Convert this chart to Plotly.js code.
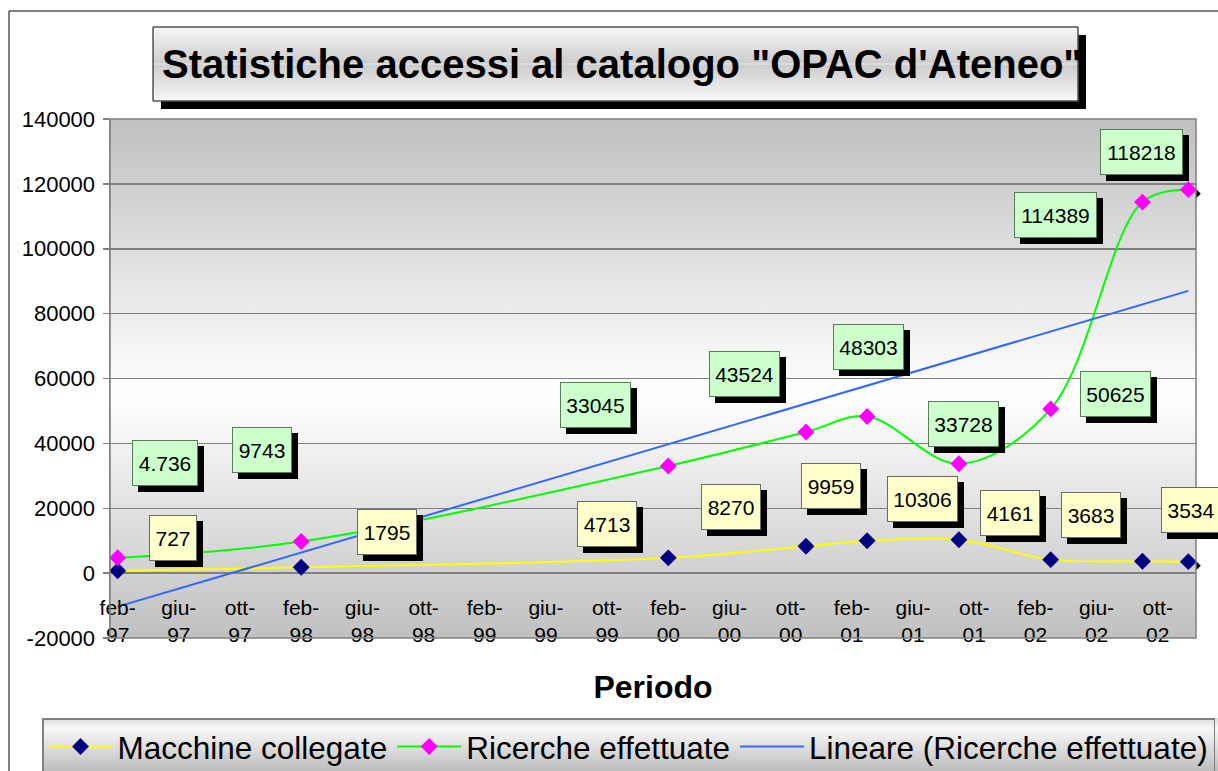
<!DOCTYPE html>
<html><head><meta charset="utf-8">
<script src="https://cdn.plot.ly/plotly-3.0.1.min.js"></script>
<style>html,body{margin:0;padding:0;background:#fff;}#chart{width:1218px;height:771px;}</style>
</head><body><div id="chart"></div>
<script>
// ---------- DATA ----------
const periodi = ["1997-02","1998-02","2000-02","2000-11","2001-03","2001-09","2002-03","2002-09","2002-12"];
const macchineCollegate = [727,1795,4713,8270,9959,10306,4161,3683,3534];
const ricercheEffettuate = [4736,9743,33045,43524,48303,33728,50625,114389,118218];
const xTickLabels = ["feb-97","giu-97","ott-97","feb-98","giu-98","ott-98","feb-99","giu-99","ott-99",
                     "feb-00","giu-00","ott-00","feb-01","giu-01","ott-01","feb-02","giu-02","ott-02"];
const yTicks = [-20000,0,20000,40000,60000,80000,100000,120000,140000];

// ---------- LABEL OFFSETS (screen px from the point: right, down) ----------
const offRicerche = [[47,-95],[-39,-92],[-73,-61],[-61,-58],[1,-69],[5,-40],[65,-15],[-87,13],[-47,-38]];
const offMacchine = [[55,-33],[86,-35],[-61,-34],[-75,-39],[-36,-55],[-36,-41],[-41,-47],[-51,-46],[3,-52]];

// ---------- helpers ----------
const mesi = {gen:1,feb:2,mar:3,apr:4,mag:5,giu:6,lug:7,ago:8,set:9,ott:10,nov:11,dic:12};
const START_Y = 1997, START_M = 2;
const idxFromISO = s => { const [y,m] = s.split('-').map(Number); return (y-START_Y)*12 + (m-START_M); };
const idxFromLabel = s => { const [mn,yy] = s.split('-'); const y = Number(yy) < 50 ? 2000+Number(yy) : 1900+Number(yy); return (y-START_Y)*12 + (mesi[mn]-START_M); };

const xs = periodi.map(idxFromISO);
const tickIdx = xTickLabels.map(idxFromLabel);
const nMonths = idxFromISO("2002-12") + 1;

// linear trend (least squares)
const n = xs.length;
const mx = xs.reduce((a,b)=>a+b,0)/n, my = ricercheEffettuate.reduce((a,b)=>a+b,0)/n;
let sxy=0, sxx=0;
for (let i=0;i<n;i++){ sxy += (xs[i]-mx)*(ricercheEffettuate[i]-my); sxx += (xs[i]-mx)**2; }
const slope = sxy/sxx, icpt = my - slope*mx;
const trendX = [Math.min(...xs), Math.max(...xs)];
const trendY = trendX.map(x => icpt + slope*x);

// ---------- geometry ----------
const W=1218,H=771,ML=110,MR=18,MT=119,MB=129;
const PW=W-ML-MR, PH=H-MT-MB, SH=4;
const px = x => (x-ML)/PW;
const py = y => 1-(y-MT)/PH;
const FONT = 'Liberation Sans, Arial, sans-serif';
const xr = [-0.5, nMonths-0.5];
const yr = [-20000, 140000];
const yDom = [SH/PH, 1];
const zeroPos = yDom[0] + (yDom[1]-yDom[0])*(0-yr[0])/(yr[1]-yr[0]);

function grad(stops){
  const svg = '<svg xmlns="http://www.w3.org/2000/svg" width="10" height="100" preserveAspectRatio="none"><defs><linearGradient id="g" x1="0" y1="0" x2="0" y2="1">' +
    stops.map(s=>'<stop offset="'+s[0]+'" stop-color="'+s[1]+'"/>').join('') +
    '</linearGradient></defs><rect width="10" height="100" fill="url(#g)"/></svg>';
  return 'data:image/svg+xml;charset=utf-8,' + encodeURIComponent(svg);
}

// ---------- traces ----------
const common = {hoverinfo:'skip', cliponaxis:false};
const traces = [
  Object.assign({x:xs, y:macchineCollegate, xaxis:'x', yaxis:'y', mode:'markers', showlegend:false,
    marker:{symbol:'diamond', size:13, color:'#000'}}, common),
  Object.assign({x:xs, y:ricercheEffettuate, xaxis:'x', yaxis:'y', mode:'markers', showlegend:false,
    marker:{symbol:'diamond', size:13, color:'#000'}}, common),
  Object.assign({x:xs, y:macchineCollegate, xaxis:'x2', yaxis:'y2', mode:'lines+markers', name:'Macchine collegate',
    line:{color:'#ffff00', width:2, shape:'spline', smoothing:1}, marker:{symbol:'diamond', size:13, color:'#000080'}}, common),
  Object.assign({x:xs, y:ricercheEffettuate, xaxis:'x2', yaxis:'y2', mode:'lines+markers', name:'Ricerche effettuate',
    line:{color:'#00ff00', width:2, shape:'spline', smoothing:1}, marker:{symbol:'diamond', size:13, color:'#ff00ff'}}, common),
  Object.assign({x:trendX, y:trendY, xaxis:'x2', yaxis:'y2', mode:'lines', name:'Lineare (Ricerche effettuate)',
    line:{color:'#3366ff', width:2}}, common)
];

// ---------- data labels ----------
const annotations = [];
const fmt = (v,i) => i===0 ? String(v).replace(/\B(?=(\d{3})+(?!\d))/g,'.') : String(v);
function textW(t){ let w=0; for (const c of t) w += (c==='.'?0.278:0.556); return w*21; }
function addLabel(xv, yv, txt, off, fill, border){
  const w = Math.round(textW(txt)+9), h = 42;
  const base = {x:xv, y:yv, xref:'x2', yref:'y2', showarrow:false, width:w, height:h,
                borderpad:1, borderwidth:1, font:{family:FONT, size:21, color:'#000'}};
  annotations.push(Object.assign({}, base, {text:' ', xshift:off[0]+6, yshift:-off[1]-6, bgcolor:'#000', bordercolor:'#000'}));
  annotations.push(Object.assign({}, base, {text:txt, xshift:off[0], yshift:-off[1], bgcolor:fill, bordercolor:border}));
}
ricercheEffettuate.forEach((v,i)=>addLabel(xs[i], v, fmt(v,i), offRicerche[i], '#ccffcc', '#5a7a5a'));
macchineCollegate.forEach((v,i)=>addLabel(xs[i], v, String(v), offMacchine[i], '#ffffcc', '#6a6a6a'));

// ---------- decorations ----------
const shapes = [
  {type:'rect', xref:'paper', yref:'paper', x0:px(9), x1:px(1260), y0:py(11), y1:py(820), line:{color:'#000', width:1}, layer:'below'},
  {type:'rect', xref:'x2 domain', yref:'y2 domain', x0:0, x1:1, y0:0, y1:1, line:{color:'#808080', width:1.5}},
  // title box border + shadow
  {type:'rect', xref:'paper', yref:'paper', x0:px(153), x1:px(1078), y0:py(101), y1:py(27), line:{color:'#000', width:1}},
  {type:'rect', xref:'paper', yref:'paper', x0:px(1078.5), x1:px(1086), y0:py(109), y1:py(35), fillcolor:'#000', line:{width:0}},
  {type:'rect', xref:'paper', yref:'paper', x0:px(161), x1:px(1086), y0:py(109), y1:py(101.5), fillcolor:'#000', line:{width:0}}
];
const images = [
  {source:grad([[0,'#c0c0c0'],[0.53,'#ffffff'],[1,'#c0c0c0']]), xref:'x2 domain', yref:'y2 domain',
   x:0, y:1, sizex:1, sizey:1, xanchor:'left', yanchor:'top', sizing:'stretch', layer:'below'},
  {source:grad([[0,'#f8f8f8'],[0.49,'#cccccc'],[0.5,'#ffffff'],[0.51,'#cccccc'],[1,'#f8f8f8']]), xref:'paper', yref:'paper',
   x:px(153), y:py(27), sizex:(1078-153)/PW, sizey:(101-27)/PH, xanchor:'left', yanchor:'top', sizing:'stretch', layer:'below'},
  {source:grad([[0,'#dcdcdc'],[0.2,'#f8f8f8'],[1,'#bdbdbd']]), xref:'paper', yref:'paper',
   x:px(42), y:py(718), sizex:(1240-42)/PW, sizey:(771-718)/PH, xanchor:'left', yanchor:'top', sizing:'stretch', layer:'below'}
];

const layout = {
  width:W, height:H, margin:{l:ML, r:MR, t:MT, b:MB, autoexpand:false},
  paper_bgcolor:'#ffffff', plot_bgcolor:'rgba(0,0,0,0)',
  font:{family:FONT, color:'#000'},
  title:{text:'Statistiche accessi al catalogo "OPAC d\'Ateneo"', font:{family:FONT, size:40, weight:'bold', color:'#000'},
         xref:'container', yref:'container', x:162/W, xanchor:'left', y:1-64/H, yanchor:'middle'},
  // shadow subplot (offset by SH px right and down)
  xaxis:{domain:[SH/PW,1], range:xr, visible:false, fixedrange:true, anchor:'y'},
  yaxis:{domain:[0,1-SH/PH], range:yr, visible:false, fixedrange:true, anchor:'x'},
  // main subplot
  xaxis2:{domain:[0,1-SH/PW], range:xr, anchor:'free', position:zeroPos, tickmode:'array', tickvals:tickIdx,
          ticktext:xTickLabels.map(s=>s.replace('-','-<br>')), ticks:'', showgrid:false, zeroline:false, showline:false,
          tickfont:{family:FONT, size:21, color:'#000'}, ticklabelstandoff:20,
          title:{text:'Periodo', font:{family:FONT, size:32, weight:'bold', color:'#000'}, standoff:30}},
  xaxis3:{overlaying:'x2', range:xr, anchor:'free', position:zeroPos, tickmode:'array', tickvals:tickIdx.map(v=>v-0.5),
          ticks:'outside', ticklen:6, tickwidth:1.5, tickcolor:'#808080', showticklabels:false, showgrid:false,
          zeroline:false, showline:true, linecolor:'#808080', linewidth:1.5},
  yaxis2:{domain:yDom, range:yr, anchor:'x2', tickmode:'array', tickvals:yTicks, ticktext:yTicks.map(String),
          showgrid:true, gridcolor:'#808080', gridwidth:1.5, zeroline:false, showline:true, linecolor:'#808080', linewidth:1.5,
          ticks:'outside', ticklen:6, tickwidth:1.5, tickcolor:'#808080', tickfont:{family:FONT, size:22, color:'#000'},
          ticklabelstandoff:3},
  showlegend:true,
  legend:{orientation:'h', x:px(42), xanchor:'left', y:py(718), yanchor:'top', bgcolor:'rgba(0,0,0,0)',
          bordercolor:'#808080', borderwidth:1.5, font:{family:FONT, size:31.5, color:'#000'}, itemwidth:64, traceorder:'normal'},
  annotations:annotations, shapes:shapes, images:images
};
Plotly.newPlot('chart', traces, layout, {staticPlot:true, displayModeBar:false});
</script></body></html>
